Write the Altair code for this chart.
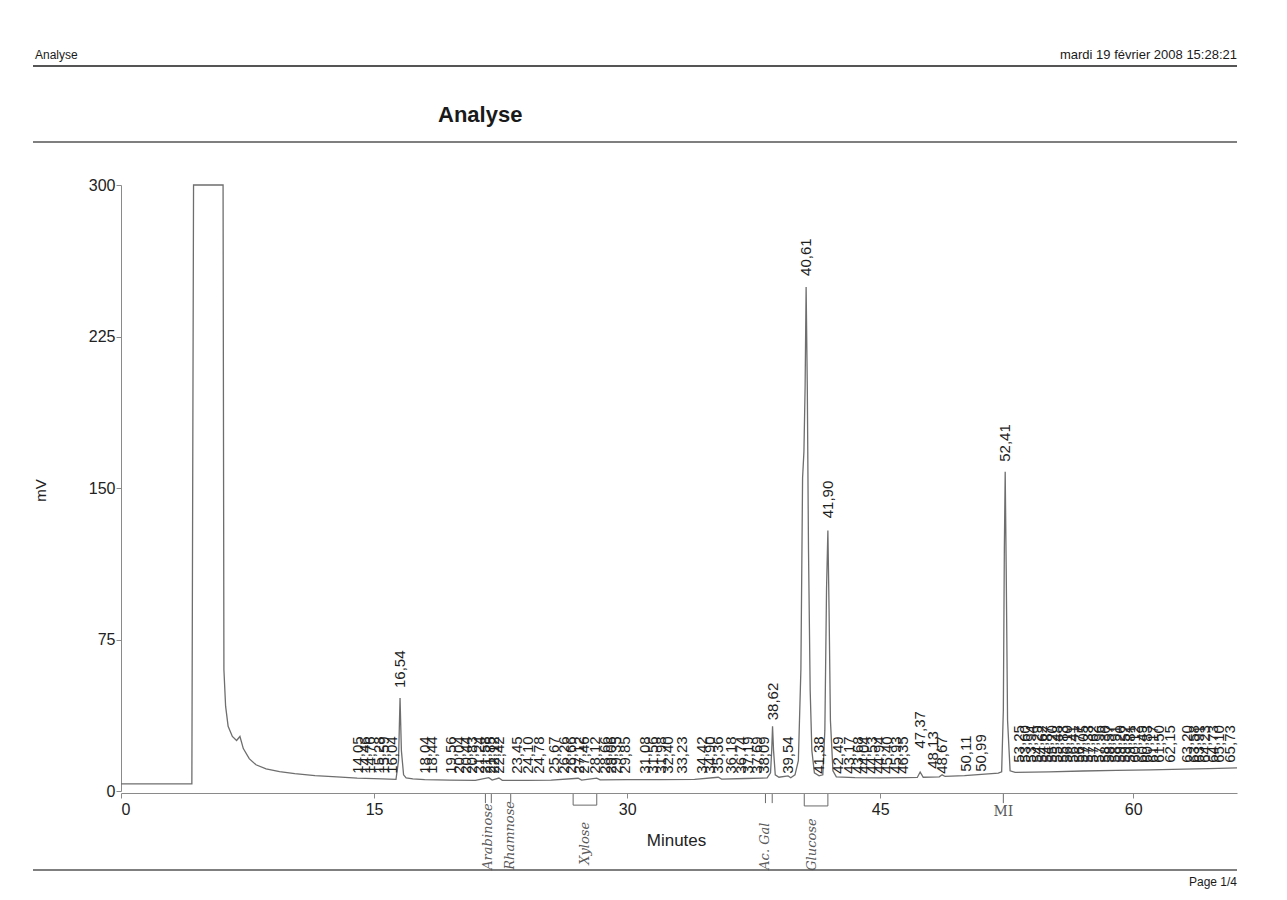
import altair as alt
import pandas as pd

# ---------------- data ----------------
trace_t = [0.0, 4.2, 4.3, 6.05, 6.1, 6.2, 6.35, 6.6, 6.85, 7.05, 7.25, 7.6, 8.0, 8.6, 9.4, 10.3, 11.5, 12.8,
           14.0, 15.5, 16.3, 16.45, 16.54, 16.62, 16.75, 16.9, 17.3, 18.0, 19.5, 21.0, 21.8, 22.0, 22.4, 22.6,
           24.0, 25.5, 27.1, 27.3, 28.2, 28.4, 30.0, 32.0, 34.0, 35.4, 35.6, 37.0, 38.0, 38.3, 38.5, 38.57,
           38.62, 38.68, 38.78, 39.0, 39.54, 39.7, 39.95, 40.15, 40.3, 40.4, 40.48, 40.55, 40.61, 40.68, 40.75,
           40.85, 40.95, 41.1, 41.38, 41.6, 41.72, 41.82, 41.9, 41.97, 42.05, 42.2, 42.4, 43.5, 45.0, 46.5,
           47.2, 47.37, 47.55, 48.5, 48.67, 48.85, 50.0, 51.0, 52.0, 52.2, 52.3, 52.36, 52.41, 52.47, 52.55,
           52.7, 53.0, 55.0, 57.0, 59.0, 61.0, 63.0, 64.5, 66.15]
trace_mv = [3.5, 3.5, 300, 300, 60, 42, 32, 27, 25, 27, 21, 16, 13, 11, 9.6, 8.6, 7.6, 7.0,
            6.4, 6.0, 5.8, 15, 46, 20, 8, 6.5, 6.0, 5.6, 5.4, 5.3, 6.6, 5.4, 6.4, 5.3,
            5.3, 5.4, 6.3, 5.4, 6.4, 5.5, 5.6, 5.6, 5.8, 6.8, 5.9, 6.2, 6.4, 6.5, 9, 20,
            32, 20, 8, 6.8, 7.5, 6.6, 8, 15, 60, 155, 168, 200, 249.5, 200, 120,
            50, 20, 9, 7.5, 8, 30, 100, 129, 90, 35, 10, 7.0, 6.6, 6.5, 6.6,
            6.7, 9.4, 6.8, 7.0, 8.0, 7.2, 7.6, 8.2, 8.8, 9.5, 40, 120, 158, 110, 35,
            10, 9.2, 9.5, 9.9, 10.2, 10.5, 10.8, 11.1, 11.4]

label_t = [14.05, 14.46, 14.76, 15.28, 15.59, 16.04, 16.54, 18.04, 18.44,
           19.56, 20.04, 20.44, 20.83, 21.24, 21.58, 21.85, 22.12, 22.42,
           23.45, 24.10, 24.78, 25.67, 26.26, 26.66, 27.12, 27.46, 28.12, 28.66, 29.06, 29.35, 29.85,
           31.08, 31.56, 31.98, 32.40, 33.23, 34.42, 34.90, 35.36, 36.18, 36.74, 37.19, 37.69, 38.09,
           38.62, 39.54, 40.61, 41.38, 41.90, 42.49, 43.17, 43.68, 44.04, 44.53, 44.94, 45.40, 45.93, 46.35,
           47.37, 48.13, 48.67, 50.11, 50.99, 52.41,
           53.25, 53.60, 53.94, 54.29, 54.62, 54.87, 55.20, 55.48, 55.83, 56.10, 56.41, 56.77, 57.05,
           57.33, 57.62, 57.96, 58.30, 58.57, 58.91, 59.20, 59.52, 59.81, 60.12, 60.49, 60.83, 61.17,
           61.50, 62.15, 63.20, 63.58, 63.91, 64.23, 64.73, 65.10, 65.73]
label_mv = [8.5, 8.5, 8.5, 8.5, 8.5, 8.5, 51, 8.5, 8.5,
            8.5, 8.5, 8.5, 8.5, 8.5, 8.5, 8.5, 8.5, 8.5,
            8.5, 8.5, 8.5, 8.5, 8.5, 8.5, 8.5, 8.5, 8.5, 8.5, 8.5, 8.5, 8.5,
            8.5, 8.5, 8.5, 8.5, 8.5, 8.5, 8.5, 8.5, 8.5, 8.5, 8.5, 8.5, 8.5,
            35, 8.5, 255, 8.5, 135, 8.5, 8.5, 8.5, 8.5, 8.5, 8.5, 8.5, 8.5, 8.5,
            21, 11, 8.5, 9.5, 9.5, 163,
            14, 14, 14, 14, 14, 14, 14, 14, 14, 14, 14, 14, 14,
            14, 14, 14, 14, 14, 14, 14, 14, 14, 14, 14, 14, 14,
            14, 14, 14, 14, 14, 14, 14, 14, 14]

note_names = ["Arabinose", "Rhamnose", "Xylose", "Ac. Gal", "Glucose"]
note_t = [21.75, 23.06, 27.5, 38.17, 40.96]
note_mv = [-39, -39, -36.5, -39, -39.5]

mark_t1 = [21.6, 21.95, 23.1, 26.8, 28.2, 26.8, 38.2, 38.6, 40.5, 41.9, 40.5, 52.3]
mark_t2 = [21.6, 21.95, 23.1, 26.8, 28.2, 28.2, 38.2, 38.6, 40.5, 41.9, 41.9, 52.3]
mark_y1 = [-1.5, -1.5, -1.5, -1.5, -1.5, -7.0, -1.5, -1.5, -1.5, -1.5, -7.4, -1.5]
mark_y2 = [-6.0, -6.0, -6.0, -7.0, -7.0, -7.0, -6.0, -6.0, -7.4, -7.4, -7.4, -6.0]

y_ticks = [0, 75, 150, 225, 300]
x_ticks = [0, 15, 30, 45, 60]

# ---------------- tables ----------------
trace = pd.DataFrame({"t": trace_t, "mv": trace_mv})
labels = pd.DataFrame({"t": label_t, "mv": label_mv,
                       "txt": [f"{v:.2f}".replace(".", ",") for v in label_t]})
notes = pd.DataFrame({"t": note_t, "mv": note_mv, "txt": note_names})
marks = pd.DataFrame({"t1": mark_t1, "t2": mark_t2, "y1": mark_y1, "y2": mark_y2})
one = pd.DataFrame({"a": [0]})

W, H = 1116, 606
FONT = "Liberation Sans"
GREY = "#8a8a8a"

xs = alt.Scale(domain=[0, 66.15], nice=False, zero=False)
ys = alt.Scale(domain=[0, 300], nice=False)

line = alt.Chart(trace).mark_line(color="#6e6e6e", strokeWidth=1.3, clip=False).encode(
    x=alt.X("t:Q", scale=xs,
            axis=alt.Axis(values=x_ticks, title="Minutes", grid=False, offset=2,
                          domainColor=GREY, tickColor=GREY, tickSize=5,
                          labelFont=FONT, labelFontSize=16, labelColor="#222", labelPadding=3,
                          titleFont=FONT, titleFontSize=17, titleFontWeight="normal", titleColor="#222",
                          titleX=555, titleY=47, titleBaseline="middle", titleAlign="center")),
    y=alt.Y("mv:Q", scale=ys,
            axis=alt.Axis(values=y_ticks, title="mV", grid=False,
                          domainColor=GREY, tickColor=GREY, tickSize=5,
                          labelFont=FONT, labelFontSize=16, labelColor="#222", labelPadding=1,
                          titleFont=FONT, titleFontSize=15, titleFontWeight="normal", titleColor="#222",
                          titleX=-81, titleY=305, titleBaseline="middle", titleAlign="center")),
)

peak_labels = alt.Chart(labels).mark_text(
    angle=270, align="left", baseline="middle", font=FONT, fontSize=15, color="#1e1e1e"
).encode(x=alt.X("t:Q", scale=xs), y=alt.Y("mv:Q", scale=ys), text="txt:N")

hand = alt.Chart(notes).mark_text(
    angle=270, align="left", baseline="middle", font="DejaVu Serif", fontStyle="italic",
    fontSize=13, color="#5a5a5a"
).encode(x=alt.X("t:Q", scale=xs), y=alt.Y("mv:Q", scale=ys), text="txt:N")

mi = alt.Chart(one).mark_text(
    align="center", baseline="middle", font="DejaVu Serif", fontSize=14, color="#5a5a5a"
).encode(x=alt.value((52.3) * W / 66.15), y=alt.value(627), text=alt.value("MI"))

brackets = alt.Chart(marks).mark_rule(color="#6a6a6a", strokeWidth=1).encode(
    x=alt.X("t1:Q", scale=xs), x2="t2:Q",
    y=alt.Y("y1:Q", scale=ys), y2="y2:Q")

# page decoration
def hline(ypix, w=2, c="#555"):
    return alt.Chart(one).mark_rule(color=c, strokeWidth=w).encode(
        x=alt.value(-88), x2=alt.value(W), y=alt.value(ypix))

def txt(s, xpix, ypix, size, align="left", weight="normal"):
    return alt.Chart(one).mark_text(align=align, baseline="middle", font=FONT, fontSize=size,
                                    fontWeight=weight, color="#1a1a1a").encode(
        x=alt.value(xpix), y=alt.value(ypix), text=alt.value(s))

deco = [
    hline(-119, 2), hline(-43, 1.6), hline(685, 1.6),
    txt("Analyse", -86, -130, 12),
    txt("mardi 19 février 2008 15:28:21", W, -130, 13, align="right"),
    txt("Analyse", 317, -70, 22, weight="bold"),
    txt("Page 1/4", W, 697, 12, align="right"),
]

chart = alt.layer(line, peak_labels, hand, mi, brackets, *deco).properties(
    width=W, height=H,
    autosize=alt.AutoSizeParams(type="none"),
    padding={"left": 121, "top": 185, "right": 50, "bottom": 109},
    background="white",
).configure_view(stroke=None)

chart.save("out.html", embed_options={"renderer": "svg", "actions": False})
